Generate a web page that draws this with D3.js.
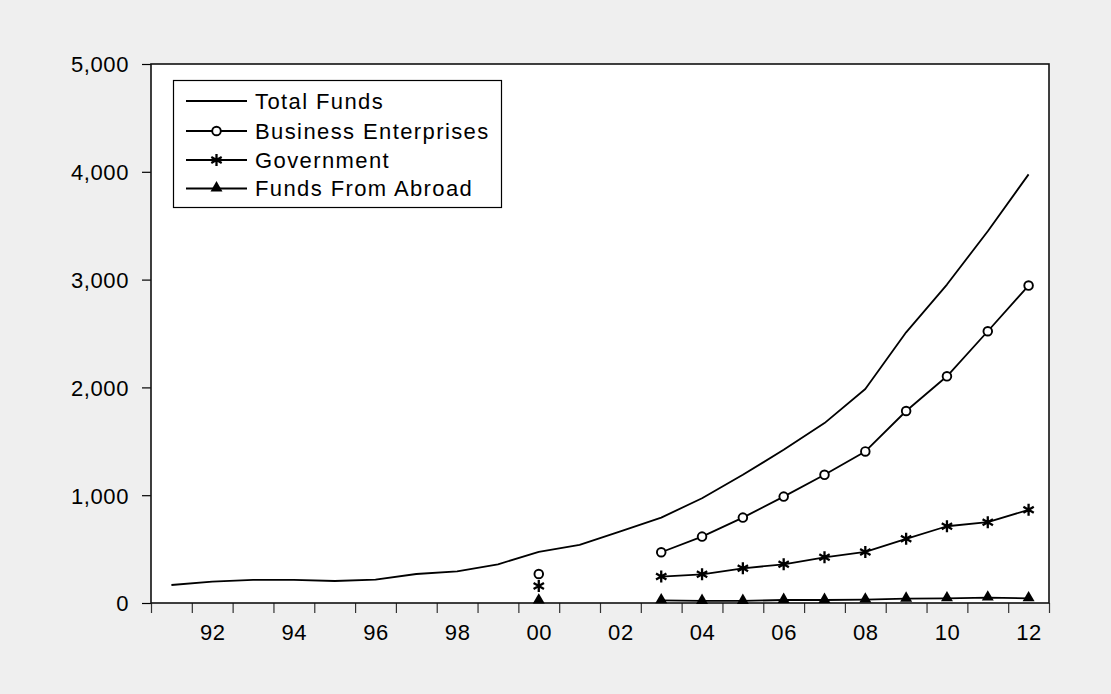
<!DOCTYPE html>
<html>
<head>
<meta charset="utf-8">
<script src="https://cdn.jsdelivr.net/npm/d3@7"></script>
<style>
  html, body { margin: 0; padding: 0; background: #efefef; }
  svg { display: block; }
  text { font-family: "Liberation Sans", Arial, sans-serif; fill: #000; }
</style>
</head>
<body>
<svg id="chart" width="1111" height="694"></svg>
<script>
const years = [1991,1992,1993,1994,1995,1996,1997,1998,1999,2000,2001,2002,2003,2004,2005,2006,2007,2008,2009,2010,2011,2012];
const totalFunds = [167,198,214,214,204,217,269,294,359,474,539,665,792,972,1189,1421,1669,1985,2511,2954,3449,3976];
const businessEnterprises = [null,null,null,null,null,null,null,null,null,269,null,null,471,616,792,987,1189,1406,1781,2103,2521,2945];
const government = [null,null,null,null,null,null,null,null,null,158,null,null,245,266,322,359,424,474,595,712,750,864];
const fundsFromAbroad = [null,null,null,null,null,null,null,null,null,22,null,null,25,19,19,28,28,31,40,43,50,43];
const yTicks = [0,1000,2000,3000,4000,5000];
const xLabelYears = [1992,1994,1996,1998,2000,2002,2004,2006,2008,2010,2012];
const seriesNames = ["Total Funds","Business Enterprises","Government","Funds From Abroad"];

const svg = d3.select("#chart");
const L = 151, R = 1049, T = 64, B = 603;

const x = d3.scaleLinear().domain([1990.5, 2012.5]).range([L, R]);
const y = d3.scaleLinear().domain([0, 5000]).range([B, T]);

svg.append("rect").attr("x",0).attr("y",0).attr("width",1111).attr("height",694).attr("fill","#efefef");
svg.append("rect").attr("x",L).attr("y",T).attr("width",R-L).attr("height",B-T).attr("fill","#fff");

// Y axis
const yAxis = d3.axisLeft(y).tickValues(yTicks).tickSize(9).tickPadding(13).tickFormat(d3.format(","));
const gy = svg.append("g").attr("transform",`translate(${L},0)`).call(yAxis);
gy.select(".domain").remove();
gy.selectAll(".tick line").attr("stroke","#000").attr("stroke-width",1.2);
gy.selectAll(".tick text").style("font-size","22px").style("letter-spacing","0.6px").attr("dy","0.36em");

// X axis: ticks between years, labels at even years
const tickVals = d3.range(1990.5, 2013, 1);
const gx = svg.append("g").attr("transform",`translate(0,${B})`)
  .call(d3.axisBottom(x).tickValues(tickVals).tickSize(10).tickFormat(""));
gx.select(".domain").remove();
gx.selectAll(".tick line").attr("stroke","#333").attr("stroke-width",1.2);
const gxl = svg.append("g").attr("transform",`translate(0,${B})`)
  .call(d3.axisBottom(x).tickValues(xLabelYears).tickSize(0).tickPadding(21)
    .tickFormat(d => String(d % 100).padStart(2,"0")));
gxl.select(".domain").remove();
gxl.selectAll(".tick text").style("font-size","22px").style("letter-spacing","0.6px");

// frame
svg.append("rect").attr("x",L).attr("y",T).attr("width",R-L).attr("height",B-T)
  .attr("fill","none").attr("stroke","#111").attr("stroke-width",1.6);

function toPts(vals){ return years.map((yr,i)=>({yr, v: vals[i]})); }
const line = d3.line().defined(d => d.v !== null).x(d => x(d.yr)).y(d => y(d.v));

const plot = svg.append("g");
const allSeries = [totalFunds, businessEnterprises, government, fundsFromAbroad];
allSeries.forEach(vals => {
  plot.append("path").datum(toPts(vals)).attr("d", line)
    .attr("fill","none").attr("stroke","#000").attr("stroke-width",1.8).attr("stroke-linejoin","round");
});

// marker drawers
function circleMarker(g, cx, cy){
  g.append("circle").attr("cx",cx).attr("cy",cy).attr("r",4.3)
    .attr("fill","#fff").attr("stroke","#000").attr("stroke-width",1.9);
}
function asteriskMarker(g, cx, cy){
  const s = 6;
  let d = "";
  [90, 30, 150].forEach(a => {
    const r = a*Math.PI/180, dx = Math.cos(r)*s, dy = Math.sin(r)*s;
    d += `M${cx-dx},${cy-dy}L${cx+dx},${cy+dy}`;
  });
  g.append("path").attr("d",d).attr("stroke","#000").attr("stroke-width",2.3).attr("fill","none");
}
function triangleMarker(g, cx, cy){
  const path = d3.symbol().type(d3.symbolTriangle).size(62)();
  g.append("path").attr("d",path).attr("transform",`translate(${cx},${cy-0.5})`).attr("fill","#000");
}
const markers = [null, circleMarker, asteriskMarker, triangleMarker];

allSeries.forEach((vals, si) => {
  if (!markers[si]) return;
  toPts(vals).filter(d => d.v !== null).forEach(d => markers[si](plot, x(d.yr), y(d.v)));
});

// Legend
const lg = svg.append("g");
lg.append("rect").attr("x",173.5).attr("y",80.5).attr("width",328).attr("height",127)
  .attr("fill","#fff").attr("stroke","#000").attr("stroke-width",1.2);
const rowY = [101, 131, 160, 188.5];
seriesNames.forEach((name, i) => {
  lg.append("line").attr("x1",186).attr("x2",247).attr("y1",rowY[i]).attr("y2",rowY[i])
    .attr("stroke","#000").attr("stroke-width",1.8);
  if (markers[i]) markers[i](lg, 216.5, rowY[i]);
  lg.append("text").attr("x",255).attr("y",rowY[i]).attr("dy","0.36em")
    .style("font-size","22px").style("letter-spacing","1.4px").text(name);
});
</script>
</body>
</html>
